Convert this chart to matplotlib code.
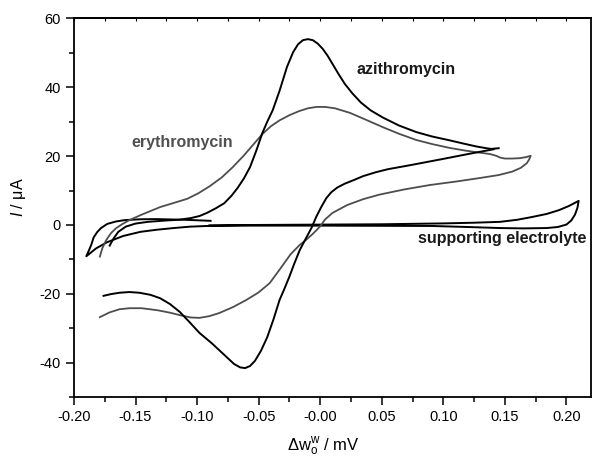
import numpy as np
import matplotlib
matplotlib.use('Agg')
import matplotlib.pyplot as plt
from matplotlib.ticker import MultipleLocator, FormatStrFormatter

plt.rcParams['font.family'] = ['Liberation Sans', 'DejaVu Sans']
plt.rcParams['mathtext.fontset'] = 'custom'
plt.rcParams['mathtext.rm'] = 'Liberation Sans'
plt.rcParams['mathtext.it'] = 'Liberation Sans:italic'
plt.rcParams['axes.unicode_minus'] = False

# azithromycin (black), forward then reverse scan
azi_fwd_x = [-0.171, -0.168, -0.164, -0.158, -0.150, -0.140, -0.125, -0.115, -0.105,
             -0.098, -0.092, -0.085, -0.078, -0.072, -0.067, -0.062, -0.057, -0.052,
             -0.047, -0.043, -0.0385, -0.033, -0.027, -0.022, -0.018, -0.014, -0.010,
             -0.006, -0.002, 0.002, 0.006, 0.010, 0.015, 0.020, 0.026, 0.033, 0.041,
             0.051, 0.064, 0.078, 0.091, 0.105, 0.117, 0.127, 0.135, 0.139, 0.145]
azi_fwd_y = [-6.0, -4.0, -2.0, -0.5, 0.4, 0.9, 1.3, 1.5, 2.0,
             2.6, 3.5, 4.8, 6.3, 8.5, 10.8, 13.5, 16.8, 21.5,
             26.7, 30.0, 33.4, 39.0, 45.9, 50.2, 52.5, 53.7, 54.0,
             53.7, 52.7, 51.2, 49.2, 46.8, 43.8, 41.0, 38.3, 35.6, 33.3,
             31.2, 28.9, 27.0, 25.7, 24.6, 23.6, 22.8, 22.3, 22.1, 22.3]
azi_rev_x = [0.141, 0.120, 0.100, 0.075, 0.055, 0.045, 0.035, 0.027, 0.020, 0.014,
             0.009, 0.005, 0.001, -0.003, -0.007, -0.011, -0.0166, -0.021, -0.025,
             -0.029, -0.033, -0.038, -0.043, -0.048, -0.053, -0.057, -0.061, -0.065,
             -0.070, -0.079, -0.088, -0.098, -0.106, -0.114, -0.122, -0.130, -0.138,
             -0.147, -0.155, -0.163, -0.170, -0.176]
azi_rev_y = [22.0, 20.6, 19.2, 17.5, 16.2, 15.3, 14.2, 13.0, 12.0, 10.9,
             9.5, 7.8, 5.3, 2.5, -0.8, -3.5, -7.3, -11.2, -15.0,
             -18.5, -21.8, -27.5, -32.6, -36.5, -39.5, -41.0, -41.6, -41.4,
             -40.4, -37.4, -34.4, -31.4, -28.3, -25.3, -23.0, -21.3, -20.3,
             -19.7, -19.5, -19.7, -20.1, -20.6]

# erythromycin (grey)
ery_x = [-0.179, -0.177, -0.174, -0.170, -0.166, -0.161, -0.155, -0.145, -0.130,
         -0.118, -0.108, -0.099, -0.090, -0.080, -0.071, -0.062, -0.054, -0.047,
         -0.040, -0.033, -0.025, -0.017, -0.010, -0.003, 0.004, 0.012, 0.024,
         0.037, 0.051, 0.064, 0.078, 0.091, 0.105, 0.118, 0.130, 0.138, 0.143,
         0.146, 0.150, 0.156, 0.162, 0.167, 0.171,
         0.170, 0.168, 0.163, 0.156, 0.145, 0.129, 0.110, 0.089, 0.068, 0.048,
         0.035, 0.022, 0.010, 0.004, 0.000, -0.006, -0.012, -0.0166, -0.024,
         -0.032, -0.041, -0.050, -0.060, -0.071, -0.082, -0.090, -0.098, -0.105,
         -0.113, -0.122, -0.132, -0.145, -0.155, -0.163, -0.171, -0.179]
ery_y = [-9.2, -6.8, -4.5, -2.4, -1.0, 0.2, 1.4, 3.0, 5.2,
         6.5, 7.6, 9.2, 11.2, 13.8, 16.8, 20.2, 23.5, 26.4,
         28.7, 30.4, 31.9, 33.1, 33.9, 34.3, 34.3, 33.9, 32.6,
         30.6, 28.4, 26.5, 24.7, 23.5, 22.4, 21.6, 21.0, 20.6, 20.1,
         19.6, 19.3, 19.3, 19.4, 19.7, 20.1,
         19.2, 18.0, 16.6, 15.5, 14.5, 13.6, 12.6, 11.6, 10.3, 8.8,
         7.5, 5.8, 3.5, 1.6, -0.4, -2.6, -4.5, -5.8, -8.5,
         -12.5, -16.9, -19.6, -21.8, -23.9, -25.6, -26.5, -27.0, -26.9,
         -26.3, -25.5, -24.8, -24.2, -24.2, -24.5, -25.4, -26.8]

# supporting electrolyte (black)
sup_x = [-0.090, -0.050, 0.000, 0.050, 0.100, 0.125, 0.146, 0.160, 0.172, 0.184,
         0.194, 0.202, 0.210,
         0.209, 0.207, 0.204, 0.200, 0.193, 0.184, 0.165, 0.146, 0.120, 0.091,
         0.000, -0.060, -0.092, -0.106, -0.119, -0.133, -0.146, -0.160, -0.173,
         -0.182, -0.190,
         -0.188, -0.186, -0.184, -0.181, -0.178, -0.173, -0.166, -0.159, -0.146,
         -0.133, -0.110, -0.089]
sup_y = [-0.1, 0.0, 0.1, 0.2, 0.45, 0.65, 0.9, 1.5, 2.3, 3.2,
         4.3, 5.5, 7.0,
         5.0, 3.0, 1.3, 0.1, -0.6, -0.9, -1.0, -0.9, -0.6, -0.3,
         -0.2, -0.2, -0.3, -0.5, -0.9, -1.4, -2.0, -3.2, -5.0,
         -6.8, -9.1,
         -7.5, -5.8, -3.6, -2.0, -0.9, 0.3, 1.0, 1.4, 1.65,
         1.7, 1.5, 1.2]

fig = plt.figure(figsize=(5.92, 4.59), dpi=100)
ax = fig.add_axes([0.125, 0.1351, 0.8733, 0.8246])

ax.plot(sup_x, sup_y, color='black', lw=1.4)
ax.plot(ery_x, ery_y, color='#4d4d4d', lw=1.3)
ax.plot(azi_fwd_x, azi_fwd_y, color='black', lw=1.4)
ax.plot(azi_rev_x, azi_rev_y, color='black', lw=1.4)

ax.text(0.07, 45.3, 'azithromycin', fontsize=11.5, fontweight='bold',
        ha='center', va='center', color='#1a1a1a')
ax.text(-0.112, 24.1, 'erythromycin', fontsize=11.5, fontweight='bold',
        ha='center', va='center', color='#505050')
ax.text(0.148, -3.8, 'supporting electrolyte', fontsize=11.5, fontweight='bold',
        ha='center', va='center', color='#1a1a1a')

ax.set_xlim(-0.2, 0.22)
ax.set_ylim(-50, 60)
ax.xaxis.set_minor_locator(MultipleLocator(0.025))
ax.xaxis.set_major_formatter(FormatStrFormatter('%.2f'))
ax.set_xticks(np.arange(-0.2, 0.201, 0.05))
ax.yaxis.set_minor_locator(MultipleLocator(10))
ax.set_yticks([-40, -20, 0, 20, 40, 60])

ax.tick_params(which='major', direction='out', length=6, width=1.1, labelsize=10.5)
ax.tick_params(which='minor', direction='out', length=3.5, width=1.1)
for s in ax.spines.values():
    s.set_linewidth(1.3)

sec = ax.secondary_xaxis('top')
sec.set_xticks(np.arange(-0.2, 0.201, 0.025))
sec.tick_params(direction='in', length=2.5, width=0.8, labeltop=False)
sec.spines['top'].set_linewidth(1.3)

ax.set_xlabel(r'$\Delta$w$_\mathregular{o}^\mathregular{w}$ / mV', fontsize=12)
ax.xaxis.set_label_coords(0.482, -0.103)
ax.set_ylabel(r'$\mathit{I}$ / $\mathregular{\mu}$A', fontsize=11.5)
ax.yaxis.set_label_coords(-0.089, 0.528)

fig.savefig('out.png', dpi=100)
